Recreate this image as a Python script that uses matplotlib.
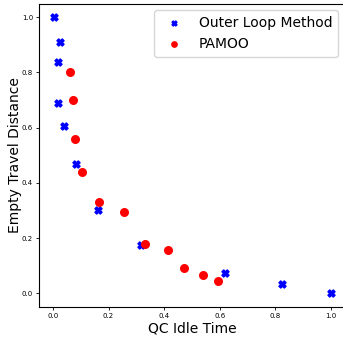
import matplotlib
matplotlib.use("Agg")
import matplotlib.pyplot as plt

outer_x = [0.005, 0.026, 0.019, 0.020, 0.039, 0.082, 0.162, 0.317, 0.618, 0.822, 1.0]
outer_y = [1.0, 0.911, 0.837, 0.691, 0.605, 0.470, 0.303, 0.173, 0.072, 0.033, 0.0]
pamoo_x = [0.062, 0.074, 0.078, 0.105, 0.166, 0.256, 0.330, 0.413, 0.470, 0.538, 0.593]
pamoo_y = [0.802, 0.699, 0.558, 0.438, 0.329, 0.295, 0.180, 0.155, 0.092, 0.065, 0.043]

fig = plt.figure(figsize=(3.43, 3.40), dpi=100)
ax = fig.add_axes([39/343, 1 - 307/340, 306/343, 303.5/340])
ax.scatter(outer_x, outer_y, marker='X', s=26, color='blue', label='Outer Loop Method', zorder=3)
ax.scatter(pamoo_x, pamoo_y, marker='o', s=30, color='red', label='PAMOO', zorder=3)
ax.set_xlim(-0.05, 1.05)
ax.set_ylim(-0.05, 1.05)
ax.set_xticks([0.0, 0.2, 0.4, 0.6, 0.8, 1.0])
ax.set_yticks([0.0, 0.2, 0.4, 0.6, 0.8, 1.0])
ax.tick_params(labelsize=5, length=2.5, width=0.6, pad=1.8)
ax.set_xlabel('QC Idle Time', fontsize=10)
ax.set_ylabel('Empty Travel Distance', fontsize=10)
ax.yaxis.set_label_coords((22 - 39) / 306, 0.5)
ax.xaxis.set_label_coords(0.5, (307 - 321) / 303.5)
ax.legend(loc='upper right', fontsize=10, markerscale=0.7, borderpad=0.4, handletextpad=0.8)
fig.savefig('out.png', dpi=100)
